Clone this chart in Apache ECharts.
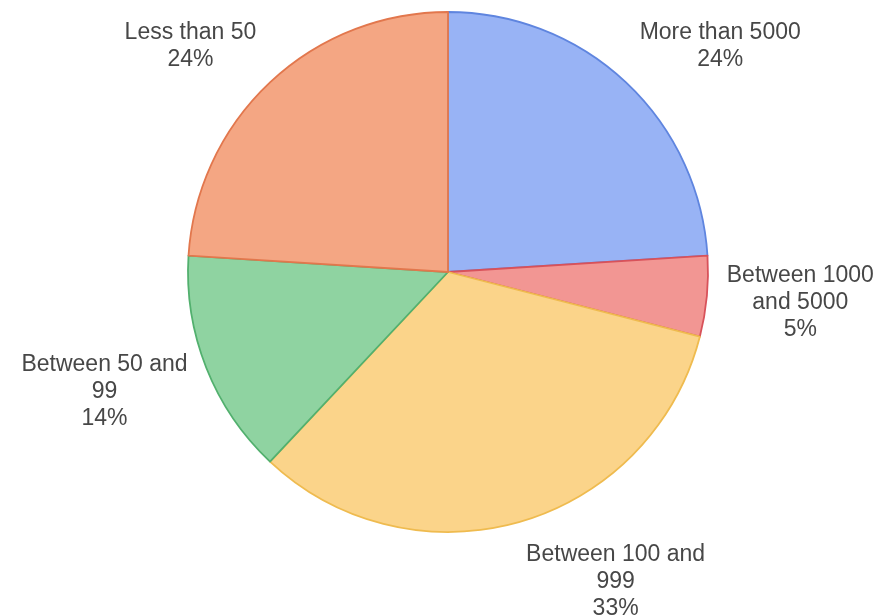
<!DOCTYPE html>
<html>
<head>
<meta charset="utf-8">
<style>
  html, body { margin: 0; padding: 0; background: #ffffff; }
  #chart { width: 887px; height: 616px; }
</style>
<script src="https://cdn.jsdelivr.net/npm/echarts@6/dist/echarts.min.js"></script>
</head>
<body>
<div id="chart"></div>
<script>
// Slices, clockwise from 12 o'clock
const categories = ['More than 5000', 'Between 1000 and 5000', 'Between 100 and 999', 'Between 50 and 99', 'Less than 50'];
const shares = [24, 5, 33, 14, 24];
const fillColors = ['#98b3f5', '#f29693', '#fbd48a', '#8fd3a1', '#f4a683'];
const borderColors = ['#5f85df', '#d8525a', '#efbb4f', '#52b06e', '#e2774d'];

// Pie geometry (pixels)
const PIE_CX = 448;
const PIE_CY = 272;
const PIE_R = 260;
const LABEL_GAP = 20;
const LABEL_FONT_SIZE = 23;
const LABEL_FONT = "'Liberation Sans', Arial, sans-serif";
const LABEL_LINE_HEIGHT = 27;
const LABEL_WRAP_WIDTH = 185;

// Greedy word wrap using canvas text metrics
const measureCtx = document.createElement('canvas').getContext('2d');
measureCtx.font = LABEL_FONT_SIZE + 'px ' + LABEL_FONT;
function wrapText(text, maxWidth) {
  const words = text.split(' ');
  const lines = [];
  let line = '';
  words.forEach(function (w) {
    const trial = line ? line + ' ' + w : w;
    if (line && measureCtx.measureText(trial).width > maxWidth) {
      lines.push(line);
      line = w;
    } else {
      line = trial;
    }
  });
  if (line) lines.push(line);
  return lines.join('\n');
}

const total = shares.reduce(function (a, b) { return a + b; }, 0);
const midAngles = [];
(function () {
  let acc = 0;
  shares.forEach(function (v) {
    midAngles.push((acc + v / 2) / total * 360);
    acc += v;
  });
})();

const data = categories.map(function (name, i) {
  return {
    name: name,
    value: shares[i],
    itemStyle: { color: fillColors[i], borderColor: borderColors[i] }
  };
});

const chart = echarts.init(document.getElementById('chart'), null, { renderer: 'canvas' });
chart.setOption({
  animation: false,
  backgroundColor: '#ffffff',
  series: [{
    type: 'pie',
    center: [PIE_CX, PIE_CY],
    radius: [0, PIE_R],
    startAngle: 90,
    clockwise: true,
    avoidLabelOverlap: false,
    silent: true,
    itemStyle: { borderWidth: 1.8 },
    label: {
      show: true,
      position: 'outside',
      formatter: function (p) {
        return wrapText(p.name, LABEL_WRAP_WIDTH) + '\n' + Math.round(p.percent) + '%';
      },
      color: '#474747',
      fontFamily: LABEL_FONT,
      fontSize: LABEL_FONT_SIZE,
      lineHeight: LABEL_LINE_HEIGHT,
      align: 'center'
    },
    labelLine: { show: false },
    labelLayout: function (params) {
      // Anchor just outside the rim at the slice's mid-angle, then push the
      // text block away from the pie so the anchor sits on its near edge.
      const theta = midAngles[params.dataIndex];
      const phi = (90 - theta) * Math.PI / 180;
      const ux = Math.cos(phi);
      const uy = -Math.sin(phi);
      const d = PIE_R + LABEL_GAP;
      const px = PIE_CX + ux * d;
      const py = PIE_CY + uy * d;
      const w = params.labelRect.width;
      const h = params.labelRect.height;
      const sx = Math.abs(ux) < 0.05 ? 0 : Math.sign(ux);
      const sy = Math.max(-1, Math.min(1, uy * 1.1));
      return {
        x: px + sx * w / 2,
        y: py + sy * h / 2,
        align: 'center',
        verticalAlign: 'middle'
      };
    },
    data: data
  }]
});
</script>
</body>
</html>
